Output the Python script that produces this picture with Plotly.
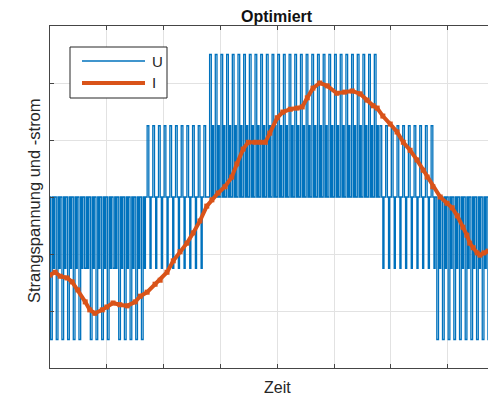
import plotly.graph_objects as go

# ---------------- data ----------------
# carrier period of the PWM (time units, one grid division = 1)
carrier_period = 0.1
# level of the first pulse in each carrier period
u_a = [-2.5, -2.5, -2.5, -2.5, -2.5, -2.5, -1.25, -2.5, -2.5, -2.5,
       -2.5, -1.25, -2.5, -2.5, -2.5, -2.5, -2.5,
       1.25, 1.25, 1.25, 1.25, 1.25, 1.25, 1.25, 1.25, 1.25, 1.25,
       1.25,
       2.5, 2.5, 2.5, 2.5, 2.5, 2.5, 2.5, 2.5, 2.5, 2.5,
       2.5, 2.5, 2.5, 2.5, 2.5, 2.5, 2.5, 2.5, 2.5, 2.5,
       2.5, 2.5, 2.5, 2.5, 2.5, 2.5, 2.5, 2.5, 2.5, 2.5,
       1.25, 1.25, 1.25, 1.25, 1.25, 1.25, 1.25, 1.25, 1.25, 1.25,
       -2.5, -2.5, -2.5, -2.5, -2.5, -2.5, -2.5, -2.5, -2.5, -2.5]
# level of the second pulse in each carrier period
u_b = [-1.25, -1.25, -1.25, -1.25, -1.25, -1.25, -1.25, -1.25, -1.25, -1.25,
       -1.25, -1.25, -1.25, -1.25, -1.25, -1.25, -1.25,
       -1.25, -1.25, -1.25, -1.25, -1.25, -1.25, -1.25, -1.25, -1.25, -1.25,
       0.0,
       1.25, 1.25, 1.25, 1.25, 1.25, 1.25, 1.25, 1.25, 1.25, 1.25,
       1.25, 1.25, 1.25, 1.25, 1.25, 1.25, 1.25, 1.25, 1.25, 1.25,
       1.25, 1.25, 1.25, 1.25, 1.25, 1.25, 1.25, 1.25, 1.25, 1.25,
       -1.25, -1.25, -1.25, -1.25, -1.25, -1.25, -1.25, -1.25, -1.25, -1.25,
       -1.25, -1.25, -1.25, -1.25, -1.25, -1.25, -1.25, -1.25, -1.25, -1.25]

# phase current
i_t = [0.00, 0.09, 0.18, 0.30, 0.39, 0.49, 0.62, 0.70, 0.79, 0.92,
       1.00, 1.11, 1.23, 1.36, 1.50, 1.59, 1.71, 1.85, 1.94, 2.06,
       2.17, 2.29, 2.41, 2.52, 2.64, 2.76, 2.85, 2.96, 3.08, 3.20,
       3.29, 3.40, 3.49, 3.61, 3.70, 3.79, 3.87, 4.00, 4.10, 4.23,
       4.35, 4.44, 4.53, 4.63, 4.75, 4.88, 5.05, 5.19, 5.32, 5.46,
       5.58, 5.69, 5.76, 5.86, 5.99, 6.11, 6.22, 6.34, 6.46, 6.57,
       6.64, 6.74, 6.87, 6.99, 7.08, 7.17, 7.27, 7.34, 7.39, 7.45,
       7.52, 7.57, 7.64, 7.71]
i_v = [-1.37, -1.32, -1.39, -1.42, -1.49, -1.63, -1.84, -1.98, -2.04, -1.98,
       -1.93, -1.86, -1.89, -1.91, -1.84, -1.74, -1.67, -1.53, -1.46, -1.32,
       -1.12, -0.96, -0.81, -0.63, -0.42, -0.16, -0.05, 0.07, 0.18, 0.35,
       0.58, 0.84, 0.96, 0.96, 0.96, 0.96, 1.12, 1.39, 1.49, 1.54,
       1.56, 1.58, 1.74, 1.91, 2.00, 1.95, 1.82, 1.84, 1.86, 1.81,
       1.70, 1.60, 1.56, 1.42, 1.28, 1.14, 0.96, 0.82, 0.65, 0.47,
       0.35, 0.18, 0.00, -0.11, -0.19, -0.33, -0.53, -0.67, -0.81, -0.89,
       -0.98, -1.02, -0.98, -0.95]

title_text = "Optimiert"
x_label = "Zeit"
y_label = "Strangspannung und -strom"
legend_names = ["U", "I"]

# ---------------- build PWM step trace ----------------
ux, uy = [], []
for k, (a, b) in enumerate(zip(u_a, u_b)):
    t0 = k * carrier_period
    for f, lv in [(0.0, 0), (0.1, 0), (0.1, a), (0.4, a), (0.4, 0),
                  (0.6, 0), (0.6, b), (0.8, b), (0.8, 0)]:
        ux.append(t0 + f * carrier_period)
        uy.append(lv)

BLUE = "#0072BD"
ORANGE = "#D95319"
AX = "#454545"
GRID = "#e2e2e2"
FONT = "Liberation Sans, Arial, sans-serif"

fig = go.Figure()
fig.add_trace(go.Scatter(x=ux, y=uy, mode="lines", name=legend_names[0],
                         line=dict(color=BLUE, width=1.3), showlegend=False))
fig.add_trace(go.Scatter(x=i_t, y=i_v, mode="lines+markers", name=legend_names[1],
                         line=dict(color=ORANGE, width=4),
                         marker=dict(symbol="square", size=5, color=ORANGE),
                         showlegend=False))

W, H = 488, 395
L, R, T, B = 50, 0, 26, 27
pw, ph = W - L - R, H - T - B

def px(xp):
    return (xp - L) / pw

def py(yp):
    return (H - B - yp) / ph

fig.update_layout(
    width=W, height=H,
    margin=dict(l=L, r=R, t=T, b=B),
    paper_bgcolor="white", plot_bgcolor="white",
    font=dict(family=FONT, color="#262626"),
    showlegend=False,
    xaxis=dict(range=[0, pw / 56.8], dtick=1, tick0=0, showgrid=True,
               gridcolor=GRID, gridwidth=1, zeroline=False,
               showline=True, linecolor=AX, linewidth=1, mirror="ticks",
               ticks="inside", ticklen=4, tickcolor=AX,
               showticklabels=False),
    yaxis=dict(range=[-3, 3], dtick=1, tick0=0, showgrid=True,
               gridcolor=GRID, gridwidth=1, zeroline=False,
               showline=True, linecolor=AX, linewidth=1, mirror=False,
               ticks="inside", ticklen=4, tickcolor=AX,
               showticklabels=False),
)

annos = [
    dict(text="<b>" + title_text + "</b>", x=px(277), y=py(17),
         font=dict(size=16, color="#111111")),
    dict(text=x_label, x=px(277), y=py(388), font=dict(size=16, color="#262626")),
    dict(text=y_label, x=px(34), y=py(201), textangle=-90,
         font=dict(size=16.5, color="#262626")),
    dict(text=legend_names[0], x=px(150), y=py(61), xanchor="left",
         font=dict(size=15, color="#262626")),
    dict(text=legend_names[1], x=px(150), y=py(83), xanchor="left",
         font=dict(size=15, color="#262626")),
]
for a in annos:
    a.setdefault("xanchor", "center")
    fig.add_annotation(xref="paper", yref="paper", showarrow=False,
                       yanchor="middle", **a)

# legend box drawn with shapes
fig.add_shape(type="rect", xref="paper", yref="paper",
              x0=px(70), x1=px(167), y0=py(98), y1=py(47),
              line=dict(color="#262626", width=1), fillcolor="white", layer="above")
fig.add_shape(type="line", xref="paper", yref="paper",
              x0=px(82), x1=px(145), y0=py(61), y1=py(61),
              line=dict(color=BLUE, width=1.5), layer="above")
fig.add_shape(type="line", xref="paper", yref="paper",
              x0=px(82), x1=px(145), y0=py(83), y1=py(83),
              line=dict(color=ORANGE, width=4), layer="above")

fig.write_html("out.html")
